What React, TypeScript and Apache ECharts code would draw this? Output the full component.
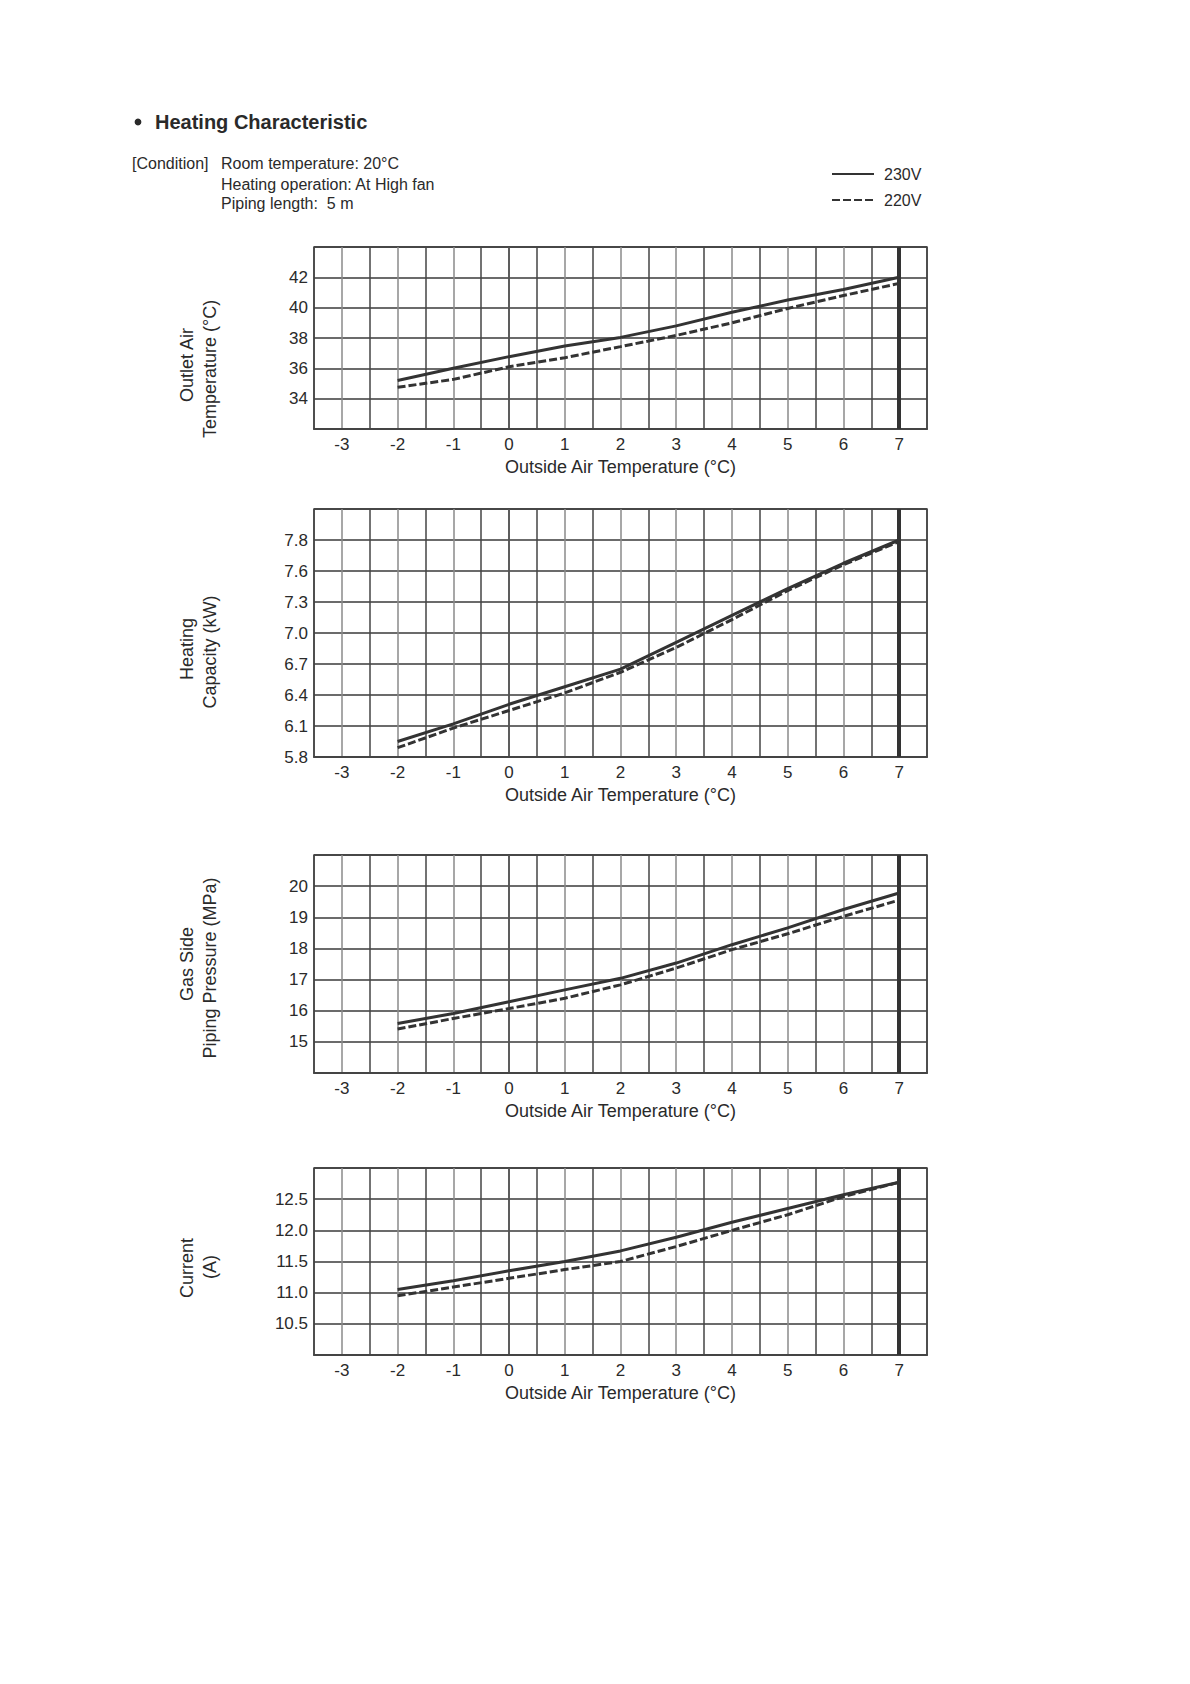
import React, { useEffect, useRef } from "react";
import * as echarts from "echarts";

// ---------- data ----------
const outsideTemps = [-2, -1, 0, 1, 2, 3, 4, 5, 6, 7];

const outlet230 = [35.2, 36.0, 36.77, 37.47, 38.04, 38.8, 39.7, 40.5, 41.2, 42.0];
const outlet220 = [34.75, 35.27, 36.1, 36.7, 37.43, 38.17, 39.0, 39.95, 40.8, 41.6];

const capacity230 = [5.95, 6.12, 6.31, 6.48, 6.65, 6.91, 7.17, 7.43, 7.65, 7.8];
const capacity220 = [5.89, 6.08, 6.25, 6.42, 6.62, 6.86, 7.13, 7.41, 7.64, 7.79];

const pressure230 = [15.59, 15.91, 16.29, 16.67, 17.04, 17.53, 18.12, 18.66, 19.25, 19.78];
const pressure220 = [15.41, 15.75, 16.07, 16.4, 16.83, 17.37, 17.96, 18.47, 19.03, 19.55];

const current230 = [11.05, 11.19, 11.35, 11.5, 11.67, 11.89, 12.13, 12.35, 12.57, 12.77];
const current220 = [10.95, 11.09, 11.23, 11.37, 11.5, 11.74, 12.0, 12.25, 12.54, 12.77];

// tick labels
const xTickLabels = [-3, -2, -1, 0, 1, 2, 3, 4, 5, 6, 7];
const outletTicks = [34, 36, 38, 40, 42];
const capacityTicks = [5.8, 6.1, 6.4, 6.7, 7.0, 7.3, 7.6, 7.8]; // equally spaced on the sheet
const pressureTicks = [15, 16, 17, 18, 19, 20];
const currentTicks = [10.5, 11.0, 11.5, 12.0, 12.5];

const seriesNames = ["230V", "220V"];

// ---------- helpers ----------
const FONT = '"Liberation Sans", Arial, Helvetica, sans-serif';
const TXT = "#2a2a2a";

// capacity axis: labels are equally spaced although values are not -> piecewise map
function capToIndex(v: number): number {
  const t = capacityTicks;
  for (let i = 0; i < t.length - 1; i++) {
    if (v <= t[i + 1]) return i + (v - t[i]) / (t[i + 1] - t[i]);
  }
  const n = t.length - 1;
  return n + (v - t[n]) / (t[n] - t[n - 1]);
}

const GRID_LEFT = 314;
const GRID_WIDTH = 613;
const grids = [
  { top: 247, height: 182 },
  { top: 509, height: 248 },
  { top: 855, height: 218 },
  { top: 1168, height: 187 },
];

export default function App() {
  const ref = useRef<HTMLDivElement>(null);

  useEffect(() => {
    if (!ref.current) return;
    const chart = echarts.init(ref.current, undefined, { renderer: "svg" });

    const xAxes = grids.map((_, i) => ({
      type: "value",
      gridIndex: i,
      min: -3.5,
      max: 7.5,
      interval: 0.5,
      name: "Outside Air Temperature (°C)",
      nameLocation: "middle",
      nameGap: 29,
      nameTextStyle: { fontFamily: FONT, fontSize: 18, color: TXT },
      axisLine: { show: true, onZero: false, lineStyle: { color: "#444", width: 2 } },
      axisTick: { show: false },
      axisLabel: {
        margin: 7,
        fontFamily: FONT,
        fontSize: 17,
        color: TXT,
        formatter: (v: number) => (xTickLabels.includes(v) ? String(v) : ""),
      },
      splitLine: { show: true, lineStyle: { color: ["#444", "#8a8a8a"], width: 1.5 } },
    }));

    const yCommon = {
      type: "value",
      axisLine: { show: true, lineStyle: { color: "#444", width: 1.5 } },
      axisTick: { show: false },
      splitLine: { show: true, lineStyle: { color: "#3a3a3a", width: 1.5 } },
    };
    const ylab = (fmt: (v: number) => string) => ({
      margin: 6,
      fontFamily: FONT,
      fontSize: 17,
      color: TXT,
      formatter: fmt,
    });

    const yAxes = [
      {
        ...yCommon,
        gridIndex: 0,
        min: 32,
        max: 44,
        interval: 2,
        axisLabel: ylab((v: number) => (outletTicks.includes(v) ? String(v) : "")),
      },
      {
        ...yCommon,
        gridIndex: 1,
        min: 0,
        max: capacityTicks.length,
        interval: 1,
        axisLabel: ylab((v: number) =>
          capacityTicks[v] !== undefined ? capacityTicks[v].toFixed(1) : ""
        ),
      },
      {
        ...yCommon,
        gridIndex: 2,
        min: 14,
        max: 21,
        interval: 1,
        axisLabel: ylab((v: number) => (pressureTicks.includes(v) ? String(v) : "")),
      },
      {
        ...yCommon,
        gridIndex: 3,
        min: 10,
        max: 13,
        interval: 0.5,
        axisLabel: ylab((v: number) => (currentTicks.includes(v) ? v.toFixed(1) : "")),
      },
    ];

    const pairs = (ys: number[], map?: (v: number) => number) =>
      outsideTemps.map((x, i) => [x, map ? map(ys[i]) : ys[i]]);

    const datasets: [number[], number[], ((v: number) => number) | undefined][] = [
      [outlet230, outlet220, undefined],
      [capacity230, capacity220, capToIndex],
      [pressure230, pressure220, undefined],
      [current230, current220, undefined],
    ];

    const series: any[] = [];
    datasets.forEach(([a, b, map], i) => {
      series.push({
        name: seriesNames[0],
        type: "line",
        xAxisIndex: i,
        yAxisIndex: i,
        data: pairs(a, map),
        symbol: "none",
        z: 4,
        lineStyle: { color: "#333", width: 3, type: "solid" },
        itemStyle: { color: "#333" },
        markLine: {
          silent: true,
          symbol: ["none", "none"],
          label: { show: false },
          lineStyle: { color: "#333", width: 4, type: "solid" },
          data: [{ xAxis: 7 }],
        },
      });
      series.push({
        name: seriesNames[1],
        type: "line",
        xAxisIndex: i,
        yAxisIndex: i,
        data: pairs(b, map),
        symbol: "none",
        z: 3,
        lineStyle: { color: "#333", width: 3, type: [8, 3] },
        itemStyle: { color: "#333" },
      });
    });

    const rotText = (text: string, x: number, y: number) => ({
      type: "text",
      x,
      y,
      rotation: Math.PI / 2,
      style: {
        text,
        fontFamily: FONT,
        fontSize: 18,
        fill: TXT,
        align: "center",
        verticalAlign: "middle",
      },
    });
    const plainText = (text: string, x: number, y: number, size = 16, weight = "normal") => ({
      type: "text",
      x,
      y,
      style: {
        text,
        fontFamily: FONT,
        fontSize: size,
        fontWeight: weight,
        fill: TXT,
        align: "left",
        verticalAlign: "middle",
      },
    });

    const option: any = {
      animation: false,
      backgroundColor: "#ffffff",
      grid: grids.map((g) => ({
        left: GRID_LEFT,
        width: GRID_WIDTH,
        top: g.top,
        height: g.height,
        show: true,
        borderColor: "#444",
        borderWidth: 1.5,
        containLabel: false,
      })),
      xAxis: xAxes,
      yAxis: yAxes,
      legend: {
        data: seriesNames,
        orient: "vertical",
        left: 831,
        top: 166,
        itemWidth: 42,
        itemHeight: 14,
        itemGap: 10,
        padding: 0,
        selectedMode: false,
        itemStyle: { opacity: 0 },
        lineStyle: { width: 2 },
        textStyle: { fontFamily: FONT, fontSize: 16, color: TXT, padding: [0, 0, 0, 5] },
      },
      series,
      graphic: [
        { type: "circle", shape: { cx: 138, cy: 122, r: 3.4 }, style: { fill: TXT } },
        plainText("Heating Characteristic", 155, 122, 20, "bold"),
        plainText("[Condition]", 132, 163),
        plainText("Room temperature: 20°C", 221, 163),
        plainText("Heating operation: At High fan", 221, 184),
        plainText("Piping length:  5 m", 221, 203),
        rotText("Outlet Air", 187, 365),
        rotText("Temperature (°C)", 210, 369),
        rotText("Heating", 187, 649),
        rotText("Capacity (kW)", 210, 652),
        rotText("Gas Side", 187, 964),
        rotText("Piping Pressure (MPa)", 210, 968),
        rotText("Current", 187, 1268),
        rotText("(A)", 210, 1267),
      ],
    };

    chart.setOption(option);
    return () => chart.dispose();
  }, []);

  return (
    <div
      ref={ref}
      style={{ position: "absolute", left: 0, top: 0, width: 1190, height: 1684 }}
    />
  );
}
